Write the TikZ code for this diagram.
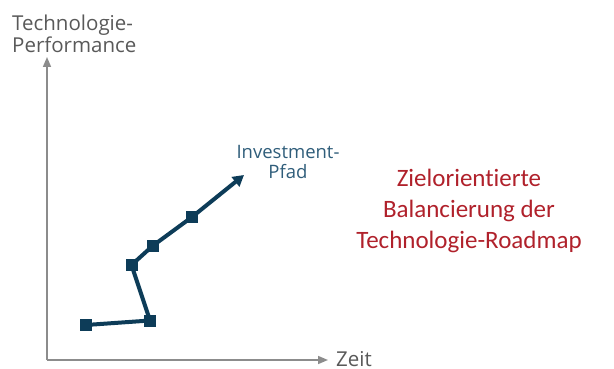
\documentclass[tikz,border=0pt]{standalone}
\usepackage{fontspec}
\setmainfont{Open Sans}
\newfontfamily\redfont[Ligatures={NoCommon}]{Carlito}
\usetikzlibrary{arrows.meta}
\definecolor{axisgray}{HTML}{8C8C8C}
\definecolor{labelgray}{HTML}{595959}
\definecolor{pathblue}{HTML}{0D3C58}
\definecolor{pathtext}{HTML}{2F5D7A}
\definecolor{goalred}{HTML}{B0212B}
\begin{document}
\begin{tikzpicture}[x=1pt,y=-1pt,
  axis/.style={draw=axisgray,line width=1.5pt,-{Triangle[length=10pt,width=8pt]}},
  milestone/.style={fill=pathblue,minimum size=12pt,inner sep=0pt},
  route/.style={draw=pathblue,line width=4pt},
  axislabel/.style={text=labelgray,font=\fontsize{20.5}{22}\selectfont,inner sep=0pt}]
\useasboundingbox (0,0) rectangle (614,369);
% axes
\coordinate (o) at (47,360);
\coordinate (ytip) at (47,57);
\coordinate (xtip) at (328,360);
\draw[axis] (o) -- (ytip);
\draw[axis] (o) -- (xtip);
\node[axislabel,align=left,anchor=base west] (ylab) at (12,53) {Technologie-\\Performance};
\node[axislabel,anchor=base west] (xlab) at (336,366.5) {Zeit};
% investment path
\node[milestone] (p1) at (86,325) {};
\node[milestone] (p2) at (150,320.5) {};
\node[milestone] (p3) at (131.5,265) {};
\node[milestone] (p4) at (152.5,246) {};
\node[milestone] (p5) at (192,217) {};
\coordinate (tip) at (244,175);
\draw[route,line join=miter] (p1.center) -- (p2.center) -- (p3.center) -- (p4.center) -- (p5.center);
\draw[route,-{Triangle[length=11pt,width=12pt]}] (p5.center) -- (tip);
\node[text=pathtext,align=center,font=\fontsize{18.5}{20}\selectfont,inner sep=0pt] (plab) at (288,162) {Investment-\\Pfad};
% goal text
\node[text=goalred,align=center,font=\redfont\fontsize{25}{31}\selectfont,inner sep=0pt] (goal) at (469,211) {Zielorientierte\\Balancierung der\\Technologie-Roadmap};
\end{tikzpicture}
\end{document}
